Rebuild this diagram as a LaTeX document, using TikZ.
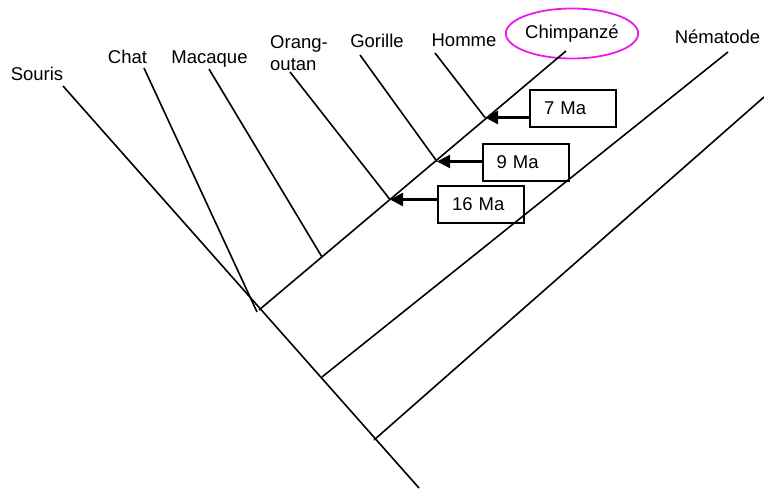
\documentclass[tikz,border=0pt]{standalone}
\usepackage{fontspec}
\setmainfont{Liberation Sans}
\usepackage{xcolor}
\usetikzlibrary{arrows.meta, positioning, calc, shapes.geometric}
\definecolor{circlemag}{HTML}{E81CE8}

\begin{document}
\begin{tikzpicture}[
    x=1pt, y=-1pt,
    >={Triangle[length=13pt, width=13pt]},
    branch/.style={line width=1.6pt},
    taxon/.style={font=\fontsize{18.5}{22}\selectfont, inner sep=0pt, anchor=base},
    agebox/.style={draw, line width=2pt, text width=58pt, inner xsep=14pt, minimum height=37pt, align=left, font=\fontsize{18.5}{22}\selectfont},
    datearrow/.style={->, line width=2.4pt},
]
    \useasboundingbox (0,0) rectangle (764,488);

    % Species names
    \node[taxon] (souris) at (37,80) {Souris};
    \node[taxon] (chat) at (127.5,63) {Chat};
    \node[taxon] (macaque) at (209.5,63) {Macaque};
    \node[taxon, anchor=base west, align=left] (orang) at (270,70) {Orang-\\outan};
    \node[taxon] (gorille) at (377,47) {Gorille};
    \node[taxon] (homme) at (464,46) {Homme};
    \node[taxon, anchor=center, ellipse, draw=circlemag, line width=1.8pt, minimum width=111pt, minimum height=50pt] (chimp) at (572,33.5) {Chimpanzé};
    \node[taxon] (nematode) at (717.5,43) {Nématode};

    % Tips of the branches
    \coordinate (tSouris) at (63,86);
    \coordinate (tChat) at (144,68);
    \coordinate (tMacaque) at (209,69);
    \coordinate (tOrang) at (290,72);
    \coordinate (tGorille) at (360,55);
    \coordinate (tHomme) at (435,53);
    \coordinate (tChimp) at (566,51);
    \coordinate (tNematode) at (728,52);
    \coordinate (tOut) at (764,97);

    % Branching points
    \coordinate (root) at (419,488);
    \coordinate (cChat) at (257,312);
    \coordinate (nPrim) at (259,310);
    \coordinate (nMac) at (322,257);
    \coordinate (j16) at (390,199.5);
    \coordinate (j9) at (437,161.5);
    \coordinate (j7) at (485,117.5);
    \coordinate (nNem) at (322,377);
    \coordinate (nOut) at (374,440);

    % Tree
    \draw[branch] (tSouris) -- (root);
    \draw[branch] (tChat) -- (cChat);
    \draw[branch] (nPrim) -- (tChimp);
    \draw[branch] (tMacaque) -- (nMac);
    \draw[branch] (tOrang) -- (j16);
    \draw[branch] (tGorille) -- (j9);
    \draw[branch] (tHomme) -- (j7);
    \draw[branch] (nNem) -- (tNematode);
    \draw[branch] (nOut) -- (tOut);

    % Dates of divergence
    \node[agebox] (b7) at (573,108.5) {7 Ma};
    \node[agebox] (b9) at (525.5,162) {9 Ma};
    \node[agebox] (b16) at (481,204.5) {16 Ma};

    \draw[datearrow] (b7.west |- j7) -- (j7);
    \draw[datearrow] (b9.west |- j9) -- (j9);
    \draw[datearrow] (b16.west |- j16) -- (j16);
\end{tikzpicture}
\end{document}
